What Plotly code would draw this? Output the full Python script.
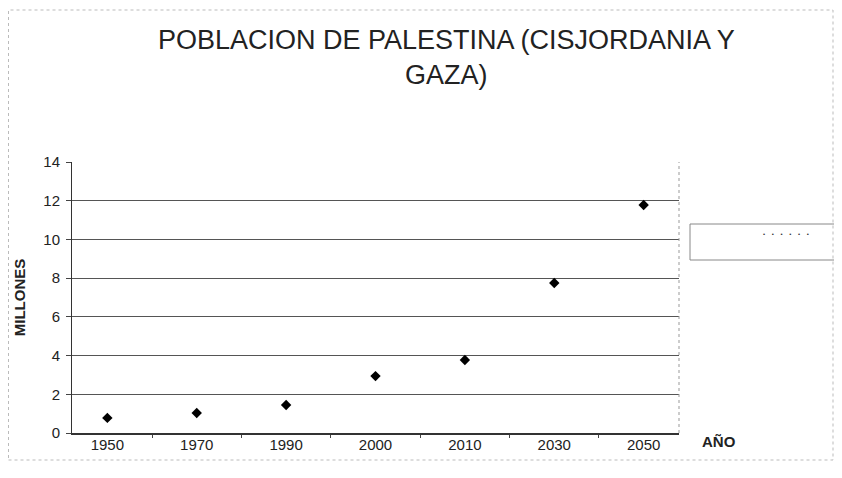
import plotly.graph_objects as go

years = ["1950", "1970", "1990", "2000", "2010", "2030", "2050"]
poblacion = [0.78, 1.03, 1.45, 2.94, 3.77, 7.75, 11.78]
y_ticks = [0, 2, 4, 6, 8, 10, 12, 14]

OFF = 8  # page body margin
W, H = 842 - 2 * OFF, 478 - 2 * OFF
# plot area in page coords: x 72..679, y 162..433
L, R, T, B = 72 - OFF, W - (679 - OFF), 162 - OFF, H - (433 - OFF)

fig = go.Figure()
fig.add_trace(go.Scatter(
    x=years, y=poblacion, mode="markers",
    marker=dict(symbol="diamond", size=8, color="black"),
    showlegend=False,
))

fig.update_layout(
    width=W, height=H,
    margin=dict(l=L, r=R, t=T, b=B),
    paper_bgcolor="white", plot_bgcolor="white",
    font=dict(family="Liberation Sans, Arial, sans-serif", color="#222", size=15),
    xaxis=dict(
        type="category", tickson="boundaries", ticks="outside", ticklen=3,
        tickcolor="#444", showline=True, linecolor="#333", linewidth=1.5,
        showgrid=False, tickfont=dict(size=15), mirror=False,
        ticklabelstandoff=-3,
    ),
    yaxis=dict(
        range=[0, 14], tickvals=y_ticks, ticks="outside", ticklen=5,
        tickcolor="#444", showline=True, linecolor="#333", linewidth=1,
        showgrid=True, gridcolor="#555", gridwidth=1, zeroline=False,
        tickfont=dict(size=15), ticklabelstandoff=3,
        title=dict(text="<b>MILLONES</b>", font=dict(size=15), standoff=14),
    ),
)

pw, ph = W - L - R, H - T - B
def px(x):
    return (x - OFF - L) / pw
def py(y):
    return (H - B - (y - OFF)) / ph

# plot-area right border (dashed, Excel style)
fig.add_shape(type="line", xref="paper", yref="paper", x0=1, x1=1, y0=0, y1=1,
              line=dict(color="#999", width=1, dash="dot"))

# title
fig.add_annotation(xref="paper", yref="paper",
                   x=px(446), y=py(23),
                   xanchor="center", yanchor="top", showarrow=False,
                   text="POBLACION DE PALESTINA (CISJORDANIA Y<br>GAZA)",
                   font=dict(size=27, color="#222"), align="center")

# x-axis title
fig.add_annotation(xref="paper", yref="paper",
                   x=px(700), y=py(441),
                   xanchor="left", yanchor="middle", showarrow=False,
                   text="<b>AÑO</b>", font=dict(size=15, color="#222"))

# legend box
fig.add_shape(type="rect", xref="paper", yref="paper",
              x0=px(690), x1=px(840), y0=py(260), y1=py(224),
              line=dict(color="#888", width=1), fillcolor="white")
fig.add_annotation(xref="paper", yref="paper", x=px(786), y=py(234),
                   xanchor="center", yanchor="middle", showarrow=False,
                   text="•&nbsp;&nbsp;&nbsp;&nbsp;•&nbsp;&nbsp;&nbsp;&nbsp;•&nbsp;&nbsp;&nbsp;&nbsp;•&nbsp;&nbsp;&nbsp;&nbsp;•&nbsp;&nbsp;&nbsp;&nbsp;•",
                   font=dict(size=6, color="#333"))

# outer chart border
fig.add_shape(type="rect", xref="paper", yref="paper",
              x0=px(8.5), x1=px(833), y0=py(460), y1=py(10),
              line=dict(color="#bbb", width=1, dash="dot"))

fig.write_html("out.html")
